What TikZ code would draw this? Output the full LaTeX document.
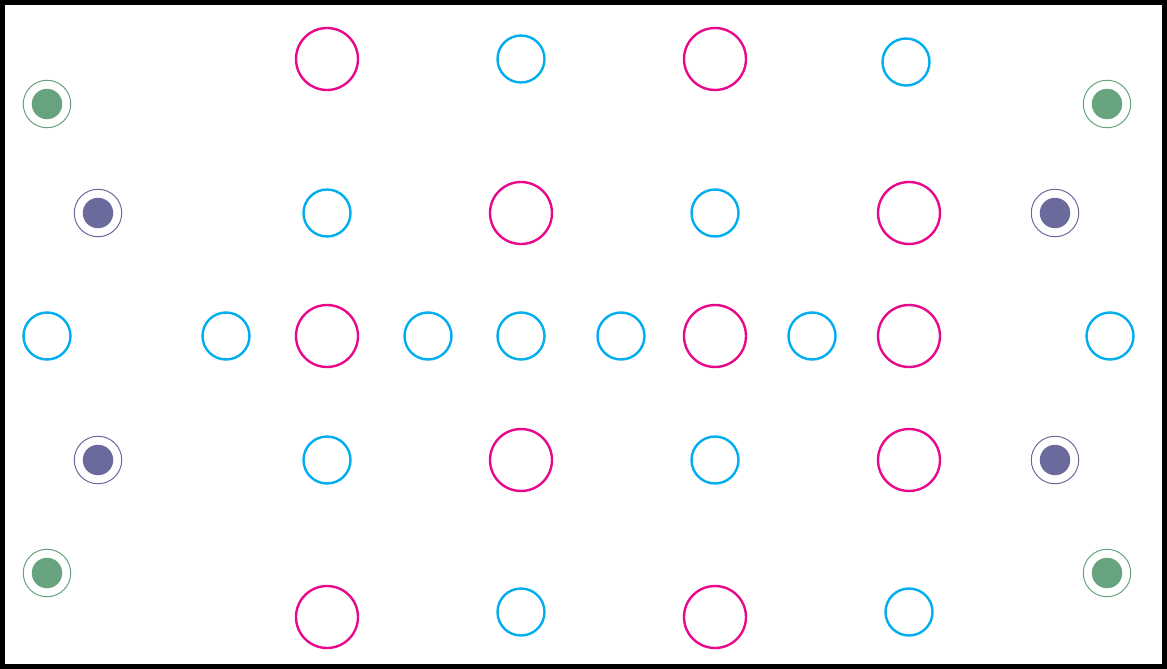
\documentclass[tikz,border=0pt]{standalone}
\definecolor{mag}{HTML}{E8088C}
\definecolor{cyn}{HTML}{00AEEF}
\definecolor{grn}{HTML}{66A37E}
\definecolor{pur}{HTML}{6A6A9C}
\begin{document}
\begin{tikzpicture}[x=1pt,y=-1pt,
  pinkring/.style={circle,draw=mag,line width=2.4pt,minimum size=62pt,inner sep=0pt},
  cyanring/.style={circle,draw=cyn,line width=2.4pt,minimum size=47pt,inner sep=0pt},
  grnout/.style={circle,draw=grn,line width=1pt,minimum size=47.5pt,inner sep=0pt},
  grnin/.style={circle,fill=grn,minimum size=30.5pt,inner sep=0pt},
  purout/.style={circle,draw=pur,line width=1pt,minimum size=47.5pt,inner sep=0pt},
  purin/.style={circle,fill=pur,minimum size=30.5pt,inner sep=0pt}]
\useasboundingbox (0,0) rectangle (1167,669);
\draw[line width=5pt] (2.5,2.5) rectangle (1164.5,666.5);
\foreach \n/\x/\y in {p1/327/59,p2/715/59,p3/521/213,p4/909/213,p5/327/336,p6/715/336,p7/909/336,p8/521/460,p9/909/460,p10/327/617,p11/715/617}
  \node[pinkring] (\n) at (\x,\y) {};
\foreach \n/\x/\y in {c1/521/59,c2/906/62,c3/327/213,c4/715/213,c5/47/336,c6/226/336,c7/428/336,c8/521/336,c9/621/336,c10/812/336,c11/1110/336,c12/327/460,c13/715/460,c14/521/612,c15/909/612}
  \node[cyanring] (\n) at (\x,\y) {};
\foreach \n/\x/\y in {g1/47/104,g2/1107/104,g3/47/573,g4/1107/573}
  {\node[grnout] (\n o) at (\x,\y) {}; \node[grnin] (\n i) at (\x,\y) {};}
\foreach \n/\x/\y in {u1/98/213,u2/1055/213,u3/98/460,u4/1055/460}
  {\node[purout] (\n o) at (\x,\y) {}; \node[purin] (\n i) at (\x,\y) {};}
\end{tikzpicture}
\end{document}
